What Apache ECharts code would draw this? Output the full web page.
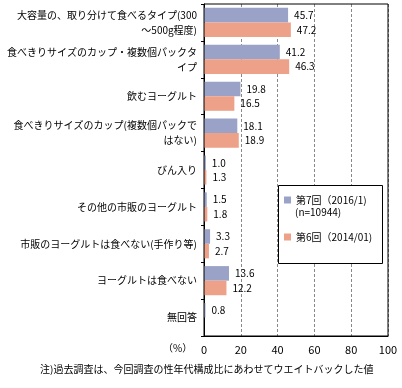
<!DOCTYPE html>
<html><head><meta charset="utf-8">
<script src="https://cdn.jsdelivr.net/npm/echarts@6/dist/echarts.min.js"></script>
<style>html,body{margin:0;padding:0;background:#fff}#c{width:402px;height:388px}</style>
</head><body><div id="c"></div>
<script>
const categories = [
  "大容量の、取り分けて食べるタイプ(300\n～500g程度)",
  "食べきりサイズのカップ・複数個パックタ\nイプ",
  "飲むヨーグルト",
  "食べきりサイズのカップ(複数個パックで\nはない)",
  "びん入り",
  "その他の市販のヨーグルト",
  "市販のヨーグルトは食べない(手作り等)",
  "ヨーグルトは食べない",
  "無回答"
];
const seriesNames = ["第7回（2016/1)", "第6回（2014/01)"];
const legendNote = "(n=10944)";
const wave7 = [45.7, 41.2, 19.8, 18.1, 1.0, 1.5, 3.3, 13.6, 0.8];
const wave6 = [47.2, 46.3, 16.5, 18.9, 1.3, 1.8, 2.7, 12.2, null];
const xTicks = [0, 20, 40, 60, 80, 100];
const unitLabel = "（%）";
const note = "注)過去調査は、今回調査の性年代構成比にあわせてウエイトバックした値";

const FONT = '"Noto Sans CJK JP", sans-serif';
const chart = echarts.init(document.getElementById('c'), null, {renderer: 'canvas'});
const lbl = {
  show: true, position: 'right', distance: 6, color: '#000',
  fontSize: 10, fontFamily: FONT,
  formatter: p => (p.value == null ? '' : Number(p.value).toFixed(1))
};
chart.setOption({
  animation: false,
  textStyle: {fontFamily: FONT},
  grid: {left: 204, right: 14, top: 4, bottom: 52, show: true, borderColor: '#000', borderWidth: 1, z: 3},
  legend: {
    data: seriesNames, orient: 'vertical', left: 284, top: 195, padding: 0,
    itemWidth: 7, itemHeight: 7, itemGap: 27, icon: 'rect', z: 5,
    textStyle: {fontSize: 10, color: '#000', fontFamily: FONT}
  },
  xAxis: {
    type: 'value', min: xTicks[0], max: xTicks[xTicks.length - 1], interval: 20,
    axisLine: {show: true, lineStyle: {color: '#000'}},
    axisTick: {show: false},
    axisLabel: {color: '#000', fontSize: 11, margin: 8, fontFamily: FONT},
    splitLine: {show: true, lineStyle: {color: '#888', type: [3, 2], width: 1}}
  },
  yAxis: {
    type: 'category', data: categories, inverse: true,
    axisLine: {show: true, lineStyle: {color: '#000'}},
    axisTick: {show: true, length: 3, lineStyle: {color: '#000'}},
    axisLabel: {color: '#000', fontSize: 10, margin: 7, lineHeight: 15, fontFamily: FONT}
  },
  series: [
    {name: seriesNames[0], type: 'bar', data: wave7, barGap: '0%', barCategoryGap: '21%',
     itemStyle: {color: '#9AA2C8'}, label: lbl},
    {name: seriesNames[1], type: 'bar', data: wave6, barGap: '0%', barCategoryGap: '21%',
     itemStyle: {color: '#EEA189'}, label: lbl}
  ],
  graphic: [
    {type: 'rect', left: 278, top: 185, shape: {width: 104, height: 78},
     style: {fill: '#fff', stroke: '#000', lineWidth: 1}, z: 4},
    {type: 'text', left: 295, top: 207, z: 6, style: {text: legendNote, fill: '#000', font: '10px ' + FONT}},
    {type: 'text', left: 163, top: 343, style: {text: unitLabel, fill: '#000', font: '10px ' + FONT}},
    {type: 'text', left: 40, top: 364, style: {text: note, fill: '#000', font: '10px ' + FONT}}
  ]
});
</script></body></html>
